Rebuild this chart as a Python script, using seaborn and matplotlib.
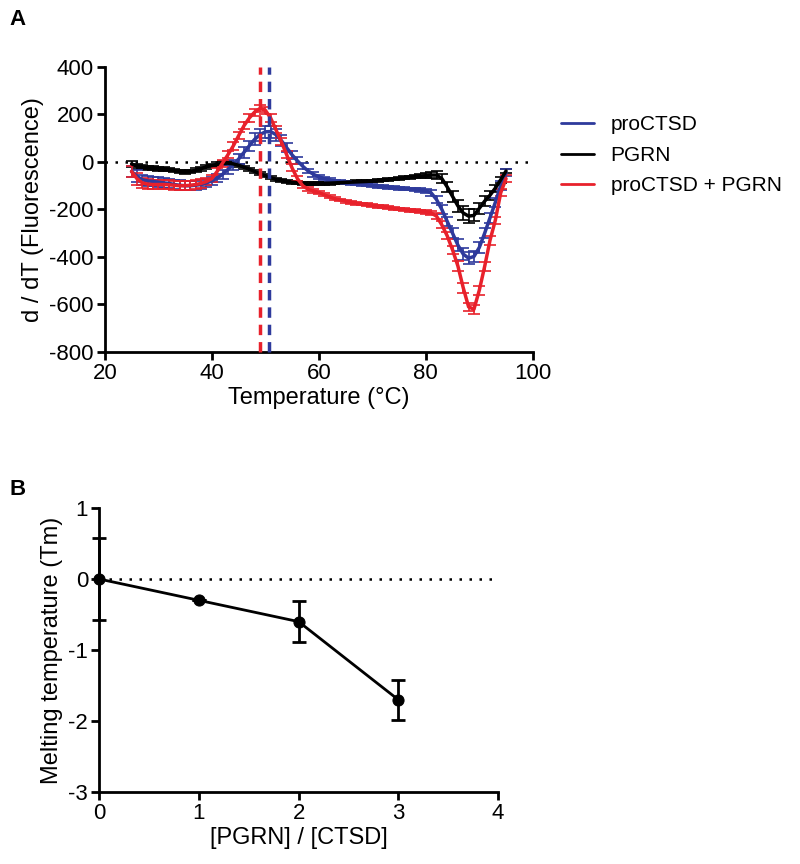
import numpy as np
import pandas as pd
import seaborn as sns
import matplotlib.pyplot as plt

# panel A: first derivative of melt curves, 25-95 °C in 1 °C steps
temps = np.arange(25, 96)

pro_ctsd = [-40, -60, -75, -80, -82, -85, -88, -90, -95, -98, -100, -100, -98, -95, -88, -80,
            -68, -52, -32, -12, 12, 40, 68, 95, 115, 127, 128, 115, 90, 60, 30, 5,
            -18, -38, -52, -62, -70, -76, -80, -84, -87, -90, -92, -95, -97, -100, -102, -104,
            -106, -108, -110, -112, -114, -116, -118, -122,
            -130, -158, -200, -250, -300, -350, -388, -405, -398, -360, -300, -235, -170, -100, -45]
pro_ctsd_err = [25, 25, 22, 20, 20, 20, 20, 20, 20, 20, 18, 18, 18, 18, 18, 18,
                18, 18, 18, 20, 20, 22, 22, 25, 25, 25, 25, 25, 22, 20, 18, 15,
                12, 10, 10, 8, 8, 8, 6, 6, 6, 6, 6, 6, 6, 6, 6, 6, 6, 6, 6, 6, 6, 6, 8, 10,
                12, 15, 18, 20, 22, 25, 25, 25, 25, 25, 22, 20, 20, 18, 15]

pgrn = [-8, -18, -22, -25, -27, -28, -30, -32, -36, -40, -42, -40, -35, -28, -20, -15,
        -10, -6, -5, -8, -14, -22, -30, -40, -50, -58, -66, -73, -78, -82, -85, -88,
        -90, -92, -92, -91, -90, -89, -88, -87, -86, -85, -84, -83, -82, -80, -78, -76,
        -74, -72, -70, -67, -65, -62, -60, -58,
        -55, -55, -70, -105, -145, -185, -215, -228, -225, -195, -165, -140, -110, -75, -38]
pgrn_err = [12, 10, 8, 8, 8, 8, 8, 8, 8, 8, 8, 8, 8, 8, 8, 8,
            8, 8, 8, 6, 6, 6, 6, 6, 6, 6, 6, 6, 6, 6, 6, 6,
            6, 6, 6, 6, 6, 6, 6, 6, 6, 6, 6, 6, 6, 6, 6, 6, 6, 6, 6, 6, 6, 6, 8, 10,
            12, 15, 18, 20, 22, 25, 28, 28, 25, 22, 20, 18, 15, 12, 10]

combo = [-40, -70, -88, -93, -95, -95, -95, -96, -98, -100, -100, -98, -95, -90, -82, -70,
         -40, -5, 30, 67, 110, 152, 185, 210, 225, 218, 185, 135, 85, 30, -25, -70,
         -100, -115, -122, -128, -138, -147, -155, -160, -165, -170, -174, -177, -180, -183, -186, -189,
         -192, -195, -198, -200, -203, -205, -207, -210,
         -215, -228, -265, -311, -370, -438, -530, -610, -620, -540, -440, -330, -245, -130, -70]
combo_err = [25, 25, 22, 20, 20, 20, 20, 18, 18, 18, 18, 18, 18, 18, 15, 15,
             15, 15, 15, 15, 15, 15, 15, 15, 15, 15, 15, 15, 15, 15, 15, 12,
             10, 8, 8, 6, 6, 6, 6, 6, 6, 6, 6, 6, 6, 6, 6, 6, 6, 6, 6, 6, 6, 6, 6, 8,
             10, 12, 15, 15, 18, 20, 20, 18, 18, 18, 18, 18, 15, 15, 15]

tm_red = 49.0
tm_blue = 50.7

# panel B: Tm shift vs ratio
ratio = [0, 1, 2, 3]
tm_shift = [0.0, -0.3, -0.6, -1.7]
tm_err = [0.58, 0.0, 0.29, 0.28]

blue = '#2E3A9C'
red = '#E8212B'
black = '#000000'

sns.set_style('ticks')
plt.rcParams['font.family'] = ['Liberation Sans', 'DejaVu Sans']
plt.rcParams['axes.unicode_minus'] = False
for key in ['text.color', 'axes.labelcolor', 'xtick.color', 'ytick.color', 'axes.edgecolor']:
    plt.rcParams[key] = 'black'

fig = plt.figure(figsize=(8, 8.64), dpi=100)
ax1 = fig.add_axes([0.131, 0.5926, 0.535, 0.3299])
ax2 = fig.add_axes([0.124, 0.0833, 0.4985, 0.3287])

df = pd.DataFrame({
    'temp': np.concatenate([temps, temps, temps]),
    'val': np.concatenate([pro_ctsd, pgrn, combo]),
    'err': np.concatenate([pro_ctsd_err, pgrn_err, combo_err]),
    'sample': ['proCTSD'] * len(temps) + ['PGRN'] * len(temps) + ['proCTSD + PGRN'] * len(temps),
})
palette = {'proCTSD': blue, 'PGRN': black, 'proCTSD + PGRN': red}

ax1.axhline(0, color='black', ls=(0, (1, 3)), lw=1.8, zorder=1)
for name in ['PGRN', 'proCTSD', 'proCTSD + PGRN']:
    sub = df[df['sample'] == name]
    ax1.errorbar(sub['temp'], sub['val'], yerr=sub['err'], fmt='none',
                 ecolor=palette[name], elinewidth=1.2, capsize=4, capthick=1.2, zorder=2)
sns.lineplot(data=df, x='temp', y='val', hue='sample', palette=palette,
             hue_order=['proCTSD', 'PGRN', 'proCTSD + PGRN'], lw=2.5, ax=ax1, zorder=3)
ax1.axvline(tm_red, color=red, ls=(0, (3, 2)), lw=2.5, zorder=4)
ax1.axvline(tm_blue, color=blue, ls=(0, (3, 2)), lw=2.5, zorder=4)

ax1.set_xlim(20, 100)
ax1.set_ylim(-800, 400)
ax1.set_xticks([20, 40, 60, 80, 100])
ax1.set_yticks([400, 200, 0, -200, -400, -600, -800])
ax1.set_xlabel('Temperature (°C)', fontsize=17, labelpad=2)
ax1.set_ylabel('d / dT (Fluorescence)', fontsize=17, labelpad=4)
leg = ax1.legend(loc='center left', bbox_to_anchor=(1.021, 0.69), frameon=False,
                 fontsize=15, handlelength=1.6, handletextpad=0.8, labelspacing=0.55)
for line in leg.get_lines():
    line.set_linewidth(2)

# panel B
ax2.plot([0, 4], [0, 0], color='black', ls=(0, (1, 3)), lw=1.8, zorder=1)
ax2.errorbar(ratio, tm_shift, yerr=tm_err, fmt='none', ecolor='black',
             elinewidth=2, capsize=5, capthick=2, zorder=2)
sns.lineplot(x=ratio, y=tm_shift, color='black', lw=2, marker='o', markersize=8,
             markeredgecolor='black', ax=ax2, zorder=3)
ax2.set_xlim(0, 4)
ax2.set_ylim(-3, 1)
ax2.set_xticks([0, 1, 2, 3, 4])
ax2.set_yticks([1, 0, -1, -2, -3])
ax2.set_xlabel('[PGRN] / [CTSD]', fontsize=17, labelpad=2)
ax2.set_ylabel('Melting temperature (Tm)', fontsize=17, labelpad=4)

for ax in (ax1, ax2):
    sns.despine(ax=ax)
    for s in ['left', 'bottom']:
        ax.spines[s].set_linewidth(2)
    ax.tick_params(width=2, length=6, labelsize=16, pad=2)
    for obj in ax.lines + ax.collections:
        obj.set_clip_on(False)

fig.text(0.012, 0.978, 'A', fontsize=16, fontweight='bold', va='center')
fig.text(0.012, 0.433, 'B', fontsize=16, fontweight='bold', va='center')

plt.savefig('out.png', dpi=100)
plt.close()
